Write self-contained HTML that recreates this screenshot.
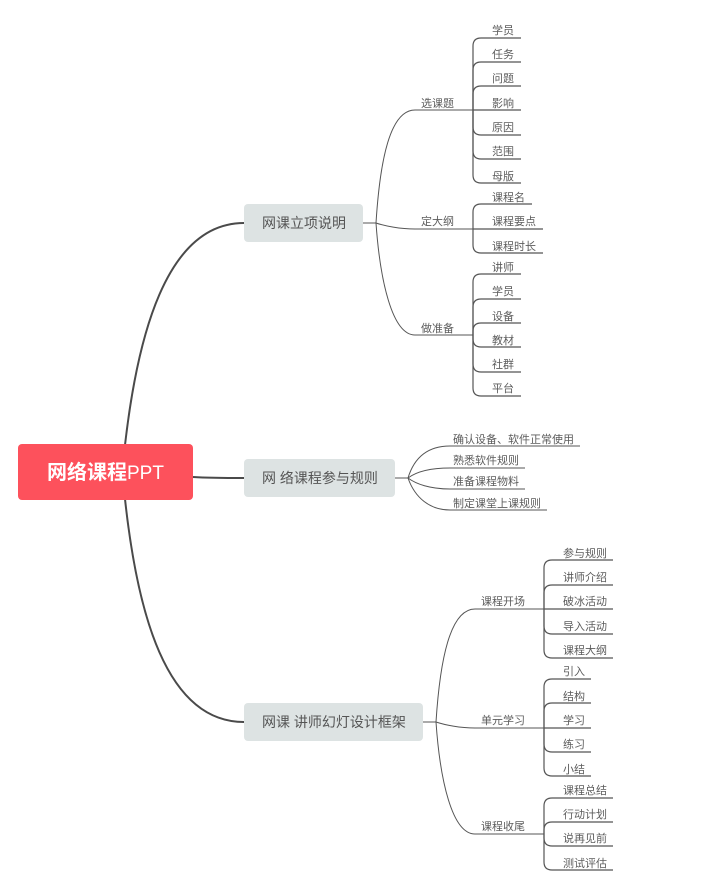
<!DOCTYPE html>
<html lang="zh">
<head>
<meta charset="utf-8">
<title>网络课程PPT</title>
<style>
html,body{margin:0;padding:0;background:#fff}
svg{display:block}
text{font-family:"Liberation Sans","Noto Sans CJK SC",sans-serif;fill:#5c5c5c;font-size:11px}
.n{font-size:14px;fill:#555}
.m{stroke:#4a4a4a;stroke-width:2;fill:none}
.b{stroke:#555;stroke-width:1;fill:none}
.l{stroke:#555;stroke-width:1.2;fill:none}
</style>
</head>
<body>
<svg width="705" height="876" viewBox="0 0 705 876" xmlns="http://www.w3.org/2000/svg">
<rect width="705" height="876" fill="#fff"/>
<!-- main connectors -->
<path class="m" d="M125 445C137 340 165 223 244 223"/>
<path class="m" d="M193 477C210 478 225 478 244 478"/>
<path class="m" d="M125 499C137 610 165 722 244 722"/>

<!-- branch 1 -->
<path class="b" d="M363 223H376"/>
<path class="b" d="M376 223C380 160 390 110 415 110H473"/>
<path class="b" d="M376 223C385 226 400 229 415 229H473"/>
<path class="b" d="M376 223C380 280 392 335 415 335H473"/>
<g>
<path class="l" d="M473 110V46Q473 38 481 38H521"/>
<path class="l" d="M473 110V70Q473 62 481 62H521"/>
<path class="l" d="M473 110V94Q473 86 481 86H521"/>
<path class="l" d="M473 110H521"/>
<path class="l" d="M473 110V127Q473 135 481 135H521"/>
<path class="l" d="M473 110V151Q473 159 481 159H521"/>
<path class="l" d="M473 110V175Q473 183 481 183H521"/>
<path class="l" d="M473 229V212Q473 204 481 204H532"/>
<path class="l" d="M473 229H543"/>
<path class="l" d="M473 229V245Q473 253 481 253H543"/>
<path class="l" d="M473 335V282Q473 274 481 274H521"/>
<path class="l" d="M473 335V307Q473 299 481 299H521"/>
<path class="l" d="M473 335V331Q473 323 481 323H521"/>
<path class="l" d="M473 335V339Q473 347 481 347H521"/>
<path class="l" d="M473 335V364Q473 372 481 372H521"/>
<path class="l" d="M473 335V388Q473 396 481 396H521"/>
</g>

<!-- branch 2 -->
<path class="b" d="M395 478H408"/>
<path class="b" d="M408 478C415 455 430 446 450 446H580"/>
<path class="b" d="M408 478C416 472 430 468 450 468H525"/>
<path class="b" d="M408 478C416 484 430 489 450 489H525"/>
<path class="b" d="M408 478C415 498 430 510 450 510H547"/>

<!-- branch 3 -->
<path class="b" d="M423 722H436"/>
<path class="b" d="M436 722C440 660 450 609 475 609H544"/>
<path class="b" d="M436 722C445 725 460 728 475 728H544"/>
<path class="b" d="M436 722C440 780 452 834 475 834H544"/>
<g>
<path class="l" d="M544 609V568Q544 560 552 560H613"/>
<path class="l" d="M544 609V593Q544 585 552 585H613"/>
<path class="l" d="M544 609H613"/>
<path class="l" d="M544 609V626Q544 634 552 634H613"/>
<path class="l" d="M544 609V650Q544 658 552 658H613"/>
<path class="l" d="M544 728V687Q544 679 552 679H591"/>
<path class="l" d="M544 728V711Q544 703 552 703H591"/>
<path class="l" d="M544 728H591"/>
<path class="l" d="M544 728V744Q544 752 552 752H591"/>
<path class="l" d="M544 728V768Q544 776 552 776H591"/>
<path class="l" d="M544 834V806Q544 798 552 798H613"/>
<path class="l" d="M544 834V830Q544 822 552 822H613"/>
<path class="l" d="M544 834V838Q544 846 552 846H613"/>
<path class="l" d="M544 834V862Q544 870 552 870H613"/>
</g>

<!-- nodes -->
<rect x="18" y="444" width="175" height="56" rx="4" fill="#fd515c"/>
<text x="47" y="479" style="font-size:20px;font-weight:bold;fill:#fff">网络课程<tspan style="font-weight:normal;font-size:19px">PPT</tspan></text>

<rect x="244" y="204" width="119" height="38" rx="4" fill="#dde3e3"/>
<text class="n" x="262" y="228">网课立项说明</text>
<rect x="244" y="459" width="151" height="38" rx="4" fill="#dde3e3"/>
<text class="n" x="262" y="483" xml:space="preserve">网 络课程参与规则</text>
<rect x="244" y="703" width="179" height="38" rx="4" fill="#dde3e3"/>
<text class="n" x="262" y="727" xml:space="preserve">网课 讲师幻灯设计框架</text>

<!-- branch 1 labels -->
<text x="421" y="107">选课题</text>
<text x="421" y="225">定大纲</text>
<text x="421" y="332">做准备</text>
<text x="492" y="34">学员</text>
<text x="492" y="58">任务</text>
<text x="492" y="82">问题</text>
<text x="492" y="107">影响</text>
<text x="492" y="131">原因</text>
<text x="492" y="155">范围</text>
<text x="492" y="180">母版</text>
<text x="492" y="201">课程名</text>
<text x="492" y="225">课程要点</text>
<text x="492" y="250">课程时长</text>
<text x="492" y="271">讲师</text>
<text x="492" y="295">学员</text>
<text x="492" y="320">设备</text>
<text x="492" y="344">教材</text>
<text x="492" y="368">社群</text>
<text x="492" y="392">平台</text>

<!-- branch 2 labels -->
<text x="453" y="443">确认设备、软件正常使用</text>
<text x="453" y="464">熟悉软件规则</text>
<text x="453" y="485">准备课程物料</text>
<text x="453" y="507">制定课堂上课规则</text>

<!-- branch 3 labels -->
<text x="481" y="605">课程开场</text>
<text x="481" y="724">单元学习</text>
<text x="481" y="830">课程收尾</text>
<text x="563" y="557">参与规则</text>
<text x="563" y="581">讲师介绍</text>
<text x="563" y="605">破冰活动</text>
<text x="563" y="630">导入活动</text>
<text x="563" y="654">课程大纲</text>
<text x="563" y="675">引入</text>
<text x="563" y="700">结构</text>
<text x="563" y="724">学习</text>
<text x="563" y="748">练习</text>
<text x="563" y="773">小结</text>
<text x="563" y="794">课程总结</text>
<text x="563" y="818">行动计划</text>
<text x="563" y="842">说再见前</text>
<text x="563" y="867">测试评估</text>
</svg>
</body>
</html>
